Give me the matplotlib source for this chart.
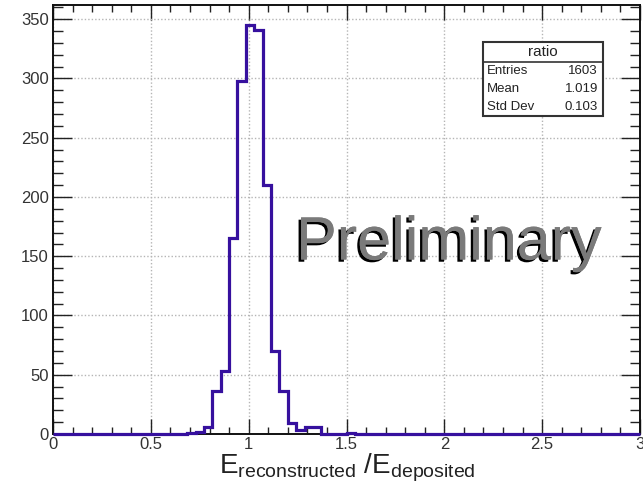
import numpy as np
import matplotlib
matplotlib.use('Agg')
from matplotlib import pyplot as plt
from matplotlib import patheffects as pe
from matplotlib.patches import Rectangle
from matplotlib.ticker import MultipleLocator

plt.rcParams['font.family'] = ['Liberation Sans', 'DejaVu Sans']
plt.rcParams['mathtext.fontset'] = 'custom'
plt.rcParams['mathtext.rm'] = 'Liberation Sans'
plt.rcParams['mathtext.it'] = 'Liberation Sans:italic'

# histogram: 70 bins from 0 to 3, only non-empty bins listed
nbins = 70
xrange_ = (0.0, 3.0)
filled_bins = [16, 17, 18, 19, 20, 21, 22, 23, 24, 25, 26, 27, 28, 29, 30, 31, 35]
filled_counts = [1, 2, 6, 36, 53, 165, 298, 345, 341, 210, 70, 36, 9, 3, 6, 6, 1]

stat_labels = ['Entries', 'Mean', 'Std Dev']
stat_values = ['1603', '1.019', '0.103']
hist_name = 'ratio'

edges = np.linspace(xrange_[0], xrange_[1], nbins + 1)
counts = np.zeros(nbins)
counts[filled_bins] = filled_counts

W, H = 643, 488
fig = plt.figure(figsize=(W / 100, H / 100), dpi=100)
ax = fig.add_axes([53 / W, 1 - 434 / H, (640 - 53) / W, (434 - 5) / H])

ax.stairs(counts, edges, color='#36109e', lw=2.3, clip_on=False, zorder=3)

ax.set_xlim(0, 3)
ax.set_ylim(0, 362)
ax.xaxis.set_minor_locator(MultipleLocator(0.1))
ax.yaxis.set_major_locator(MultipleLocator(50))
ax.yaxis.set_minor_locator(MultipleLocator(10))
ax.set_xticks([0, 0.5, 1, 1.5, 2, 2.5, 3], ['0', '0.5', '1', '1.5', '2', '2.5', '3'])
ax.tick_params(which='both', direction='in', top=True, right=True,
               colors='#222222', labelcolor='#333333', width=1.0, labelsize=12)
ax.tick_params(axis='y', which='major', length=14, pad=3)
ax.tick_params(axis='y', which='minor', length=7)
ax.tick_params(axis='x', which='major', length=11, pad=2)
ax.tick_params(axis='x', which='minor', length=5)
ax.grid(True, which='major', color='#b5b5b5', ls=(0, (1, 1.5)), lw=1.0)
for s in ax.spines.values():
    s.set_linewidth(1.4)
    s.set_color('#111111')

fig.text(347 / W, 1 - 474 / H,
         r'$\mathrm{E_{reconstructed}\ /E_{deposited}}$',
         ha='center', va='baseline', fontsize=20, color='#222222')

fig.text(449 / W, 1 - 244 / H, 'Preliminary', ha='center',
         va='center', fontsize=44, color='#7a7a7a',
         path_effects=[pe.withSimplePatchShadow(offset=(-1.8, -1.6),
                                                shadow_rgbFace='black', alpha=1),
                       pe.Normal()])

# stats box
bx0, bx1, by0, by1, bsep = 483, 603, 42, 116, 62
fig.patches.append(Rectangle((bx0 / W, 1 - by1 / H), (bx1 - bx0) / W, (by1 - by0) / H,
                             transform=fig.transFigure, fc='white', ec='#333333',
                             lw=1.5, zorder=5))
fig.add_artist(plt.Line2D([bx0 / W, bx1 / W], [1 - bsep / H, 1 - bsep / H],
                          transform=fig.transFigure, color='#333333', lw=1.2, zorder=6))
fig.text((bx0 + bx1) / 2 / W, 1 - 52 / H, hist_name, ha='center', va='center',
         fontsize=11, color='#222222', zorder=7)
for i, (lab, val) in enumerate(zip(stat_labels, stat_values)):
    yy = 1 - (71 + 18 * i) / H
    fig.text(487 / W, yy, lab, ha='left', va='center', fontsize=9.5,
             color='#222222', zorder=7)
    fig.text(598 / W, yy, val, ha='right', va='center', fontsize=9.5,
             color='#222222', zorder=7)

fig.savefig('out.png', dpi=100)
